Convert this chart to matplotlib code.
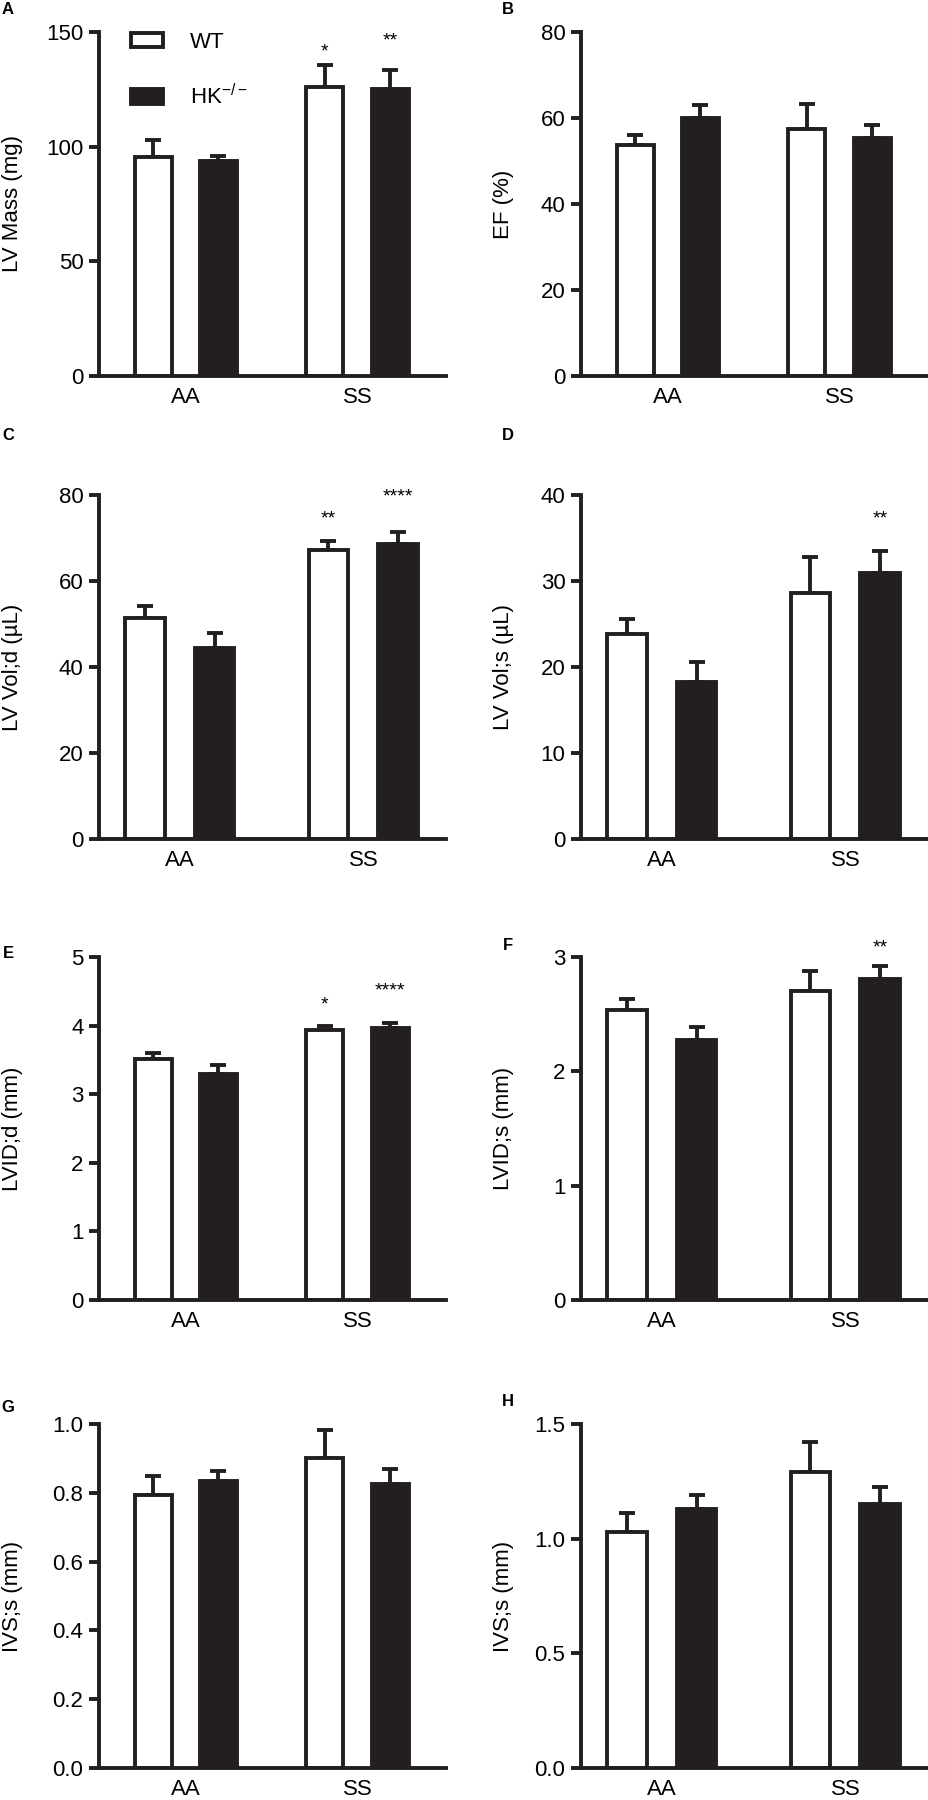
import matplotlib
matplotlib.use('Agg')
import matplotlib.pyplot as plt
from matplotlib.patches import Patch
import numpy as np

plt.rcParams['font.family'] = ['Liberation Sans', 'DejaVu Sans']
plt.rcParams['mathtext.default'] = 'regular'

groups = ['AA', 'SS']
series = ['WT', 'HK$^{-/-}$']

# values ordered AA, SS for each genotype
lv_mass_wt = [95.5, 126.0]
lv_mass_wt_err = [7.3, 9.5]
lv_mass_hk = [93.7, 125.0]
lv_mass_hk_err = [2.4, 8.6]

ef_wt = [53.7, 57.5]
ef_wt_err = [2.3, 5.7]
ef_hk = [59.9, 55.4]
ef_hk_err = [3.2, 2.9]

lvvol_d_wt = [51.5, 67.1]
lvvol_d_wt_err = [2.6, 2.3]
lvvol_d_hk = [44.4, 68.5]
lvvol_d_hk_err = [3.5, 3.0]

lvvol_s_wt = [23.8, 28.6]
lvvol_s_wt_err = [1.8, 4.2]
lvvol_s_hk = [18.2, 30.9]
lvvol_s_hk_err = [2.4, 2.6]

lvid_d_wt = [3.52, 3.93]
lvid_d_wt_err = [0.08, 0.07]
lvid_d_hk = [3.30, 3.96]
lvid_d_hk_err = [0.13, 0.08]

lvid_s_wt = [2.54, 2.70]
lvid_s_wt_err = [0.09, 0.18]
lvid_s_hk = [2.27, 2.81]
lvid_s_hk_err = [0.12, 0.11]

ivs_g_wt = [0.795, 0.901]
ivs_g_wt_err = [0.053, 0.083]
ivs_g_hk = [0.833, 0.827]
ivs_g_hk_err = [0.031, 0.042]

ivs_h_wt = [1.03, 1.289]
ivs_h_wt_err = [0.083, 0.134]
ivs_h_hk = [1.13, 1.150]
ivs_h_hk_err = [0.060, 0.076]

# significance marks on SS bars: (wt, hk)
stars = {
    'A': ('*', '**'),
    'C': ('**', '****'),
    'D': ('', '**'),
    'E': ('*', '****'),
    'F': ('', '**'),
}

panels = [
    ('A', 'LV Mass (mg)', lv_mass_wt, lv_mass_wt_err, lv_mass_hk, lv_mass_hk_err, [0, 50, 100, 150], '%d'),
    ('B', 'EF (%)', ef_wt, ef_wt_err, ef_hk, ef_hk_err, [0, 20, 40, 60, 80], '%d'),
    ('C', 'LV Vol;d (\u00b5L)', lvvol_d_wt, lvvol_d_wt_err, lvvol_d_hk, lvvol_d_hk_err, [0, 20, 40, 60, 80], '%d'),
    ('D', 'LV Vol;s (\u00b5L)', lvvol_s_wt, lvvol_s_wt_err, lvvol_s_hk, lvvol_s_hk_err, [0, 10, 20, 30, 40], '%d'),
    ('E', 'LVID;d (mm)', lvid_d_wt, lvid_d_wt_err, lvid_d_hk, lvid_d_hk_err, [0, 1, 2, 3, 4, 5], '%d'),
    ('F', 'LVID;s (mm)', lvid_s_wt, lvid_s_wt_err, lvid_s_hk, lvid_s_hk_err, [0, 1, 2, 3], '%d'),
    ('G', 'IVS;s (mm)', ivs_g_wt, ivs_g_wt_err, ivs_g_hk, ivs_g_hk_err, [0, 0.2, 0.4, 0.6, 0.8, 1.0], '%.1f'),
    ('H', 'IVS;s (mm)', ivs_h_wt, ivs_h_wt_err, ivs_h_hk, ivs_h_hk_err, [0, 0.5, 1.0, 1.5], '%.1f'),
]

# layout in pixels
W, H = 929, 1800
col_left = [99, 581]
ax_w = 347
rows = [(32, 376), (495, 839), (957, 1300), (1424, 1768)]
wide = (-0.505, 1.515)
narrow = (-0.44, 1.45)
xlims = {'A': wide, 'B': wide, 'C': narrow, 'D': narrow,
         'E': wide, 'F': narrow, 'G': wide, 'H': narrow}
letter_y = {'A': 10, 'B': 10, 'C': 436, 'D': 436, 'E': 953, 'F': 946, 'G': 1408, 'H': 1402}
star_off = {'A': (13, 29), 'C': (22, 35), 'D': (0, 32), 'E': (21, 32), 'F': (0, 18)}

dark = '#231f20'
lw = 2.8
off = 0.19
bw = 0.216
fs = 16

fig = plt.figure(figsize=(W / 100, H / 100), dpi=100)

for i, (letter, ylabel, wt, wt_err, hk, hk_err, yticks, fmt) in enumerate(panels):
    r, c = i // 2, i % 2
    top, bot = rows[r]
    ax = fig.add_axes([col_left[c] / W, 1 - bot / H, ax_w / W, (bot - top) / H])
    x = np.arange(len(groups))
    ax.errorbar(x - off, wt, yerr=[np.zeros(2), wt_err], fmt='none', ecolor=dark,
                elinewidth=lw, capsize=5.8, capthick=lw, zorder=1)
    ax.errorbar(x + off, hk, yerr=[np.zeros(2), hk_err], fmt='none', ecolor=dark,
                elinewidth=lw, capsize=5.8, capthick=lw, zorder=1)
    ax.bar(x - off, wt, bw, color='white', edgecolor=dark, linewidth=lw, zorder=2)
    ax.bar(x + off, hk, bw, color=dark, edgecolor=dark, linewidth=lw, zorder=2)

    ax.set_xlim(*xlims[letter])
    ax.set_ylim(0, yticks[-1])
    ax.set_yticks(yticks)
    ax.set_yticklabels([fmt % t for t in yticks])
    ax.set_xticks(x)
    ax.set_xticklabels(groups)
    for s in ['top', 'right']:
        ax.spines[s].set_visible(False)
    for s in ['left', 'bottom']:
        ax.spines[s].set_linewidth(lw)
        ax.spines[s].set_color(dark)
    ax.tick_params(axis='y', length=7.2, width=lw, color=dark, labelsize=fs, pad=4)
    ax.tick_params(axis='x', length=0, labelsize=fs, pad=8)
    ax.set_ylabel(ylabel, fontsize=fs, va='center')
    lab_x = 13 if c == 0 else 503
    ax.yaxis.set_label_coords((lab_x - col_left[c]) / ax_w, 0.5)

    fig.text((8 if c == 0 else 508) / W, 1 - letter_y[letter] / H, letter,
             fontsize=12, fontweight='bold', ha='center', va='center')

    if letter in stars:
        for j, (mark, vals, errs, xo) in enumerate([(stars[letter][0], wt, wt_err, -off),
                                                    (stars[letter][1], hk, hk_err, off)]):
            if mark:
                ax.annotate(mark, (1 + xo, vals[1] + errs[1]), xytext=(0, star_off[letter][j] * 0.72),
                            textcoords='offset points', ha='center', va='center',
                            fontsize=14, annotation_clip=False)

    if letter == 'A':
        handles = [Patch(facecolor='white', edgecolor=dark, linewidth=lw),
                   Patch(facecolor=dark, edgecolor=dark, linewidth=lw)]
        ax.legend(handles, series, loc='upper left', bbox_to_anchor=(32 / ax_w, 1.0),
                  frameon=False, fontsize=fs, handlelength=1.45, handleheight=0.6,
                  handletextpad=1.2, labelspacing=1.4, borderpad=0, borderaxespad=0)

fig.savefig('out.png', dpi=100)
